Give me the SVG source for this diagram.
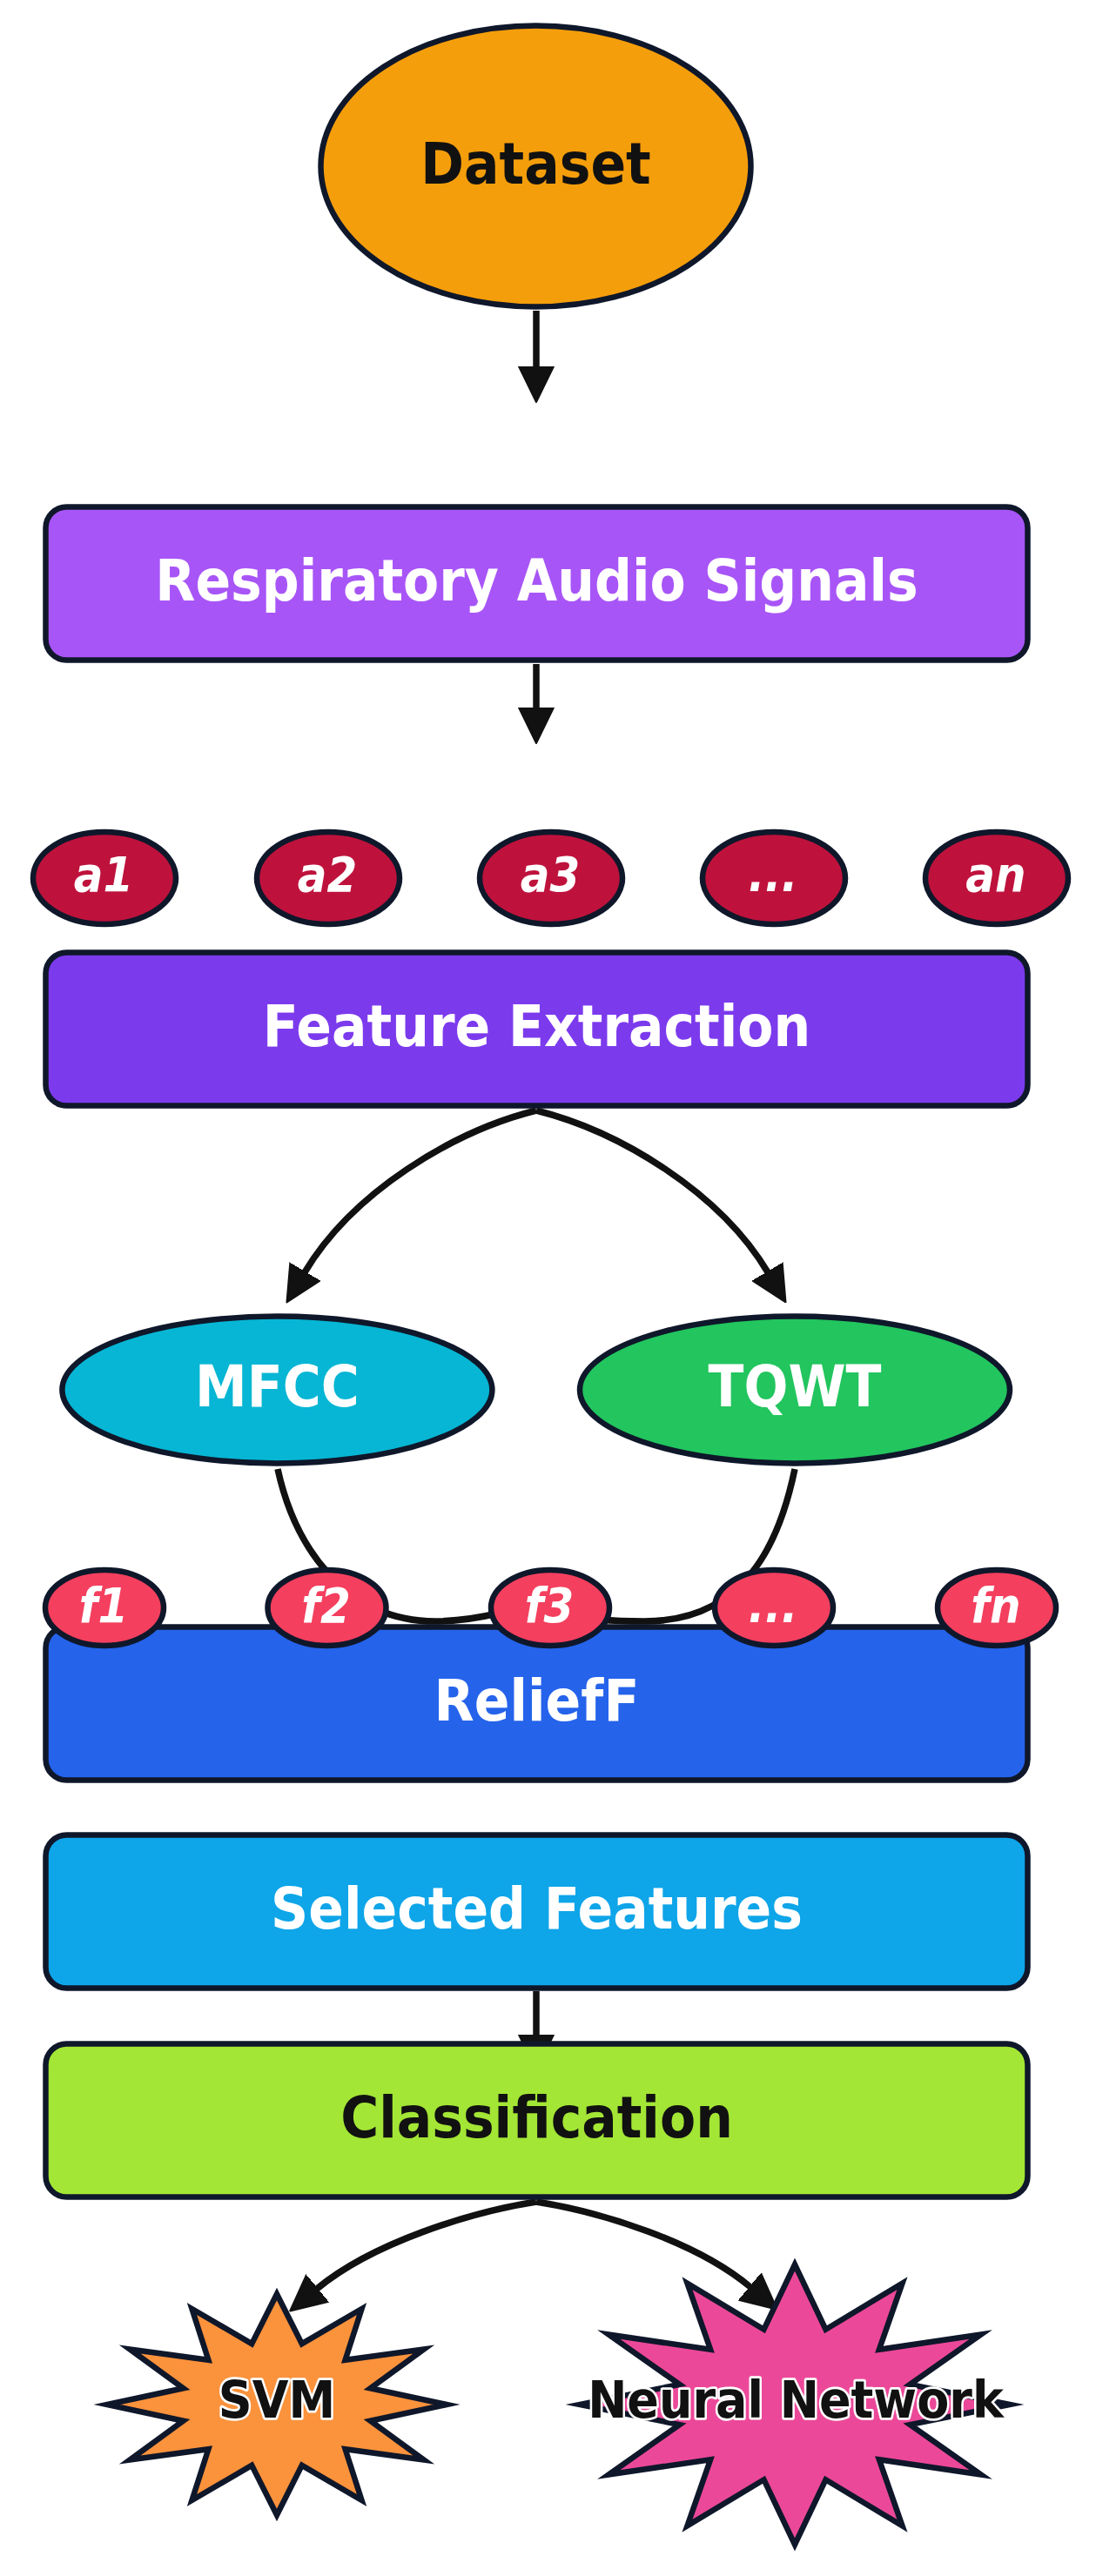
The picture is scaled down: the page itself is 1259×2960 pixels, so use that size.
<svg xmlns="http://www.w3.org/2000/svg" width="1259" height="2960" viewBox="0 0 1259 2960">
<defs>
<style>
.n{stroke:#0F172A;stroke-width:6.5;stroke-linejoin:miter;stroke-miterlimit:10}
.lbl{font-family:"DejaVu Sans","Liberation Sans",sans-serif;font-weight:bold;font-size:60px;text-anchor:middle}
.w{fill:#FFFFFF}
.k{fill:#111111}
.sm{font-size:50px;font-style:italic}
.st{font-size:54px;fill:#111111;stroke:#FFFFFF;stroke-width:5;paint-order:stroke;stroke-linejoin:round}
.c{fill:none;stroke:#111111;stroke-width:7.5}
</style>
<marker id="ah" markerUnits="userSpaceOnUse" markerWidth="42" markerHeight="42" viewBox="0 0 42 42" refX="1" refY="21" orient="auto">
<path d="M0,1 L41,21 L0,41 Z" fill="#111111" stroke="#111111" stroke-width="2" stroke-linejoin="round"/>
</marker>
</defs>
<rect x="0" y="0" width="1259" height="2960" fill="#FFFFFF"/>

<g id="connectors">
<path class="c" d="M616,357 L616,422" marker-end="url(#ah)"/>
<path class="c" d="M616,763 L616,814" marker-end="url(#ah)"/>
<path class="c" d="M616,1276 C520,1300 405,1370 350,1462" marker-end="url(#ah)"/>
<path class="c" d="M616,1276 C712,1300 827,1370 882,1462" marker-end="url(#ah)"/>
<path class="c" d="M319,1688 C338,1775 395,1863 500,1863 C530,1862.6 555,1858 575,1853" marker-end="url(#ah)"/>
<path class="c" d="M913,1688 C895,1775 855,1863 740,1863 C715,1863 700,1862 690,1861" marker-end="url(#ah)"/>
<path class="c" d="M616,2288 L616,2339" marker-end="url(#ah)"/>
<path class="c" d="M616,2530 C540,2542 428,2577 364,2630" marker-end="url(#ah)"/>
<path class="c" d="M616,2530 C692,2542 800,2576 862,2628" marker-end="url(#ah)"/>
</g>

<g id="dataset">
<ellipse class="n" cx="615.5" cy="191" rx="247" ry="161.5" fill="#F59E0B"/>
<text class="lbl k" transform="translate(615.5,211) scale(1,1.1)">Dataset</text>
</g>

<g id="respiratory">
<rect class="n" x="52.5" y="582.5" width="1128" height="176" rx="24" fill="#A855F7"/>
<text class="lbl w" transform="translate(616.5,689.5) scale(1,1.1)">Respiratory Audio Signals</text>
</g>

<g id="a1"><ellipse class="n" cx="120" cy="1009" rx="82" ry="53" fill="#BE123C"/><text class="lbl w sm" transform="translate(119,1024) scale(1,1.1)">a1</text></g>
<g id="a2"><ellipse class="n" cx="377" cy="1009" rx="82" ry="53" fill="#BE123C"/><text class="lbl w sm" transform="translate(376,1024) scale(1,1.1)">a2</text></g>
<g id="a3"><ellipse class="n" cx="633" cy="1009" rx="82" ry="53" fill="#BE123C"/><text class="lbl w sm" transform="translate(632,1024) scale(1,1.1)">a3</text></g>
<g id="a_dots"><ellipse class="n" cx="889" cy="1009" rx="82" ry="53" fill="#BE123C"/><text class="lbl w sm" transform="translate(888,1024) scale(1,1.1)">...</text></g>
<g id="an"><ellipse class="n" cx="1145" cy="1009" rx="82" ry="53" fill="#BE123C"/><text class="lbl w sm" transform="translate(1144,1024) scale(1,1.1)">an</text></g>

<g id="feature_extraction">
<rect class="n" x="52.5" y="1094.5" width="1128" height="176" rx="24" fill="#7C3AED"/>
<text class="lbl w" transform="translate(616.5,1201.5) scale(1,1.1)">Feature Extraction</text>
</g>

<g id="mfcc">
<ellipse class="n" cx="318.4" cy="1597" rx="247" ry="84.5" fill="#06B6D4"/>
<text class="lbl w" transform="translate(318.4,1616) scale(1,1.1)">MFCC</text>
</g>
<g id="tqwt">
<ellipse class="n" cx="913" cy="1597" rx="247" ry="84.5" fill="#22C55E"/>
<text class="lbl w" transform="translate(913,1616) scale(1,1.1)">TQWT</text>
</g>

<g id="relieff">
<rect class="n" x="52.5" y="1869.5" width="1128" height="176" rx="24" fill="#2563EB"/>
<text class="lbl w" transform="translate(616.5,1976.5) scale(1,1.1)">ReliefF</text>
</g>

<g id="f1"><ellipse class="n" cx="120" cy="1847.5" rx="68" ry="43.5" fill="#F43F5E"/><text class="lbl w sm" transform="translate(119,1864) scale(1,1.1)">f1</text></g>
<g id="f2"><ellipse class="n" cx="375.5" cy="1847.5" rx="68" ry="43.5" fill="#F43F5E"/><text class="lbl w sm" transform="translate(374.5,1864) scale(1,1.1)">f2</text></g>
<g id="f3"><ellipse class="n" cx="632" cy="1847.5" rx="68" ry="43.5" fill="#F43F5E"/><text class="lbl w sm" transform="translate(631,1864) scale(1,1.1)">f3</text></g>
<g id="f_dots"><ellipse class="n" cx="889" cy="1847.5" rx="68" ry="43.5" fill="#F43F5E"/><text class="lbl w sm" transform="translate(888,1864) scale(1,1.1)">...</text></g>
<g id="fn"><ellipse class="n" cx="1145" cy="1847.5" rx="68" ry="43.5" fill="#F43F5E"/><text class="lbl w sm" transform="translate(1144,1864) scale(1,1.1)">fn</text></g>

<g id="selected_features">
<rect class="n" x="52.5" y="2108.5" width="1128" height="176" rx="24" fill="#0EA5E9"/>
<text class="lbl w" transform="translate(616.5,2215.5) scale(1,1.1)">Selected Features</text>
</g>

<g id="classification">
<rect class="n" x="52.5" y="2348.5" width="1128" height="176" rx="24" fill="#A3E635"/>
<text class="lbl k" transform="translate(616.5,2455.5) scale(1,1.1)">Classification</text>
</g>

<g id="svm">
<polygon class="n" fill="#FB923C" points="513,2763 425.4,2744.3 486.9,2699.5 396.6,2711.8 415.5,2653 346.8,2693.1 318,2636 289.2,2693.1 220.5,2653 239.4,2711.8 149.1,2699.5 210.6,2744.3 123,2763 210.6,2781.7 149.1,2826.5 239.4,2814.2 220.5,2873 289.2,2832.9 318,2890 346.8,2832.9 415.5,2873 396.6,2814.2 486.9,2826.5 425.4,2781.7"/>
<text class="lbl st" transform="translate(318,2778) scale(1,1.1)">SVM</text>
</g>

<g id="neural_network">
<polygon class="n" fill="#EC4899" points="1160,2763 1045.4,2739.9 1126.9,2682.5 1009.9,2699.8 1036.5,2623.6 948.5,2676.7 913,2602 877.5,2676.7 789.5,2623.6 816.1,2699.8 699.1,2682.5 780.6,2739.9 666,2763 780.6,2786.1 699.1,2843.5 816.1,2826.2 789.5,2902.4 877.5,2849.3 913,2924 948.5,2849.3 1036.5,2902.4 1009.9,2826.2 1126.9,2843.5 1045.4,2786.1"/>
<text class="lbl st" transform="translate(914,2778) scale(1,1.1)">Neural Network</text>
</g>
</svg>
